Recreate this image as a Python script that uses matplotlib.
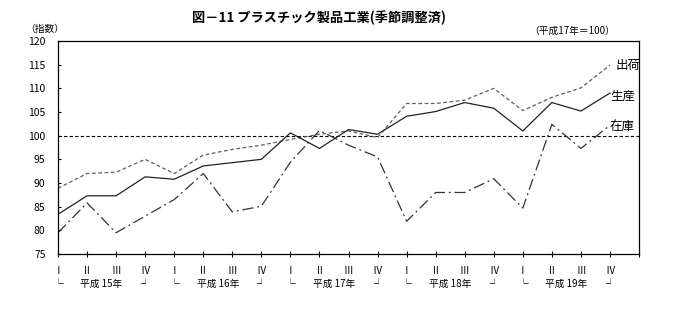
import matplotlib
matplotlib.use("Agg")
import matplotlib.pyplot as plt
import matplotlib.transforms as mtransforms

plt.rcParams['font.family'] = ['Noto Sans CJK JP', 'DejaVu Sans']

# 四半期（平成15年Ⅰ期〜平成19年Ⅳ期）
quarters = ['Ⅰ', 'Ⅱ', 'Ⅲ', 'Ⅳ'] * 5
years = ['平成 15年', '平成 16年', '平成 17年', '平成 18年', '平成 19年']

shipments = [88.9, 92.0, 92.3, 95.0, 92.0, 95.9, 97.1, 98.0, 99.2, 100.3,
             101.0, 99.6, 106.8, 106.8, 107.5, 110.0, 105.3, 108.1, 110.1, 114.9]
production = [83.4, 87.3, 87.3, 91.3, 90.8, 93.6, 94.3, 95.0, 100.6, 97.3,
              101.3, 100.3, 104.1, 105.1, 107.0, 105.8, 101.0, 107.0, 105.2, 109.0]
inventory = [79.5, 85.8, 79.5, 83.0, 86.5, 92.0, 83.9, 85.1, 94.4, 101.1,
             98.0, 95.5, 81.9, 88.0, 88.0, 90.9, 84.7, 102.4, 97.3, 102.2]

x = list(range(len(quarters)))

fig = plt.figure(figsize=(6.73, 3.27), dpi=100)
ax = fig.add_axes([0.0862, 0.2232, 0.8633, 0.6514])

ax.axhline(100, color='black', lw=0.8, dashes=(3, 2))
ax.plot(x, shipments, color='#606060', lw=0.9, dashes=(3, 2))
ax.plot(x, production, color='#222222', lw=0.9)
ax.plot(x, inventory, color='#333333', lw=0.9, dashes=(9, 3, 1.5, 3))

ax.set_xlim(0, 20)
ax.set_ylim(75, 120)
ax.set_yticks(range(75, 121, 5))
ax.tick_params(axis='y', direction='in', length=2.5, width=0.8, labelsize=7.5, pad=9)
ax.set_xticks(range(21))
ax.set_xticklabels(quarters + [''])
ax.tick_params(axis='x', direction='inout', length=5, width=0.8, labelsize=7, pad=6)
for s in ax.spines.values():
    s.set_linewidth(0.9)

# 年の区切り
trans = mtransforms.blended_transform_factory(ax.transData, ax.transAxes)
for k, yr in enumerate(years):
    ax.text(4 * k, -0.14, '└', transform=trans, ha='center', va='center', fontsize=7)
    ax.text(4 * k + 3, -0.14, '┘', transform=trans, ha='center', va='center', fontsize=7)
    ax.text(4 * k + 1.5, -0.14, yr, transform=trans, ha='center', va='center', fontsize=7)

# 系列名
ax.text(19.2, 114.9, '出荷', ha='left', va='center', fontsize=9)
ax.text(19.0, 108.4, '生産', ha='left', va='center', fontsize=9)
ax.text(19.0, 101.9, '在庫', ha='left', va='center', fontsize=9)

fig.text(0.474, 0.945, '図－11 プラスチック製品工業(季節調整済)', ha='center', va='center',
         fontsize=9.5, fontweight='bold')
fig.text(0.066, 0.911, '（指数）', ha='center', va='center', fontsize=7)
fig.text(0.85, 0.905, '（平成17年＝100）', ha='center', va='center', fontsize=7)

fig.savefig('out.png', dpi=100)
